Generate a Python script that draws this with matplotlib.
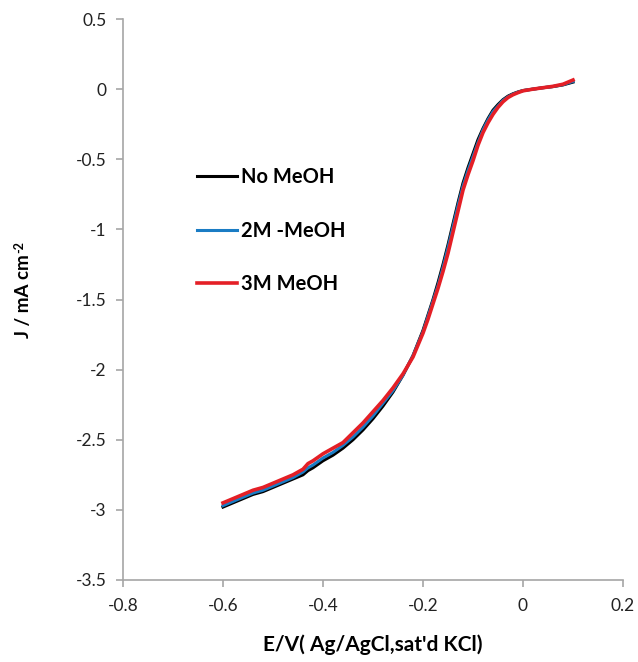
import matplotlib
matplotlib.use("Agg")
import matplotlib.pyplot as plt

plt.rcParams["font.family"] = ["Lato", "DejaVu Sans"]

# potential (V vs Ag/AgCl)
E = [-0.60, -0.58, -0.56, -0.54, -0.52, -0.50, -0.48, -0.46, -0.44, -0.43,
     -0.42, -0.40, -0.38, -0.36, -0.34, -0.32, -0.30, -0.28, -0.26, -0.24,
     -0.22, -0.20, -0.19, -0.18, -0.17, -0.16, -0.15, -0.14, -0.13, -0.12,
     -0.11, -0.10, -0.09, -0.08, -0.07, -0.06, -0.05, -0.04, -0.03, -0.02,
     -0.01, 0.00, 0.02, 0.04, 0.06, 0.08, 0.10]

# current density (mA cm-2)
j_no_meoh = [-2.98, -2.95, -2.92, -2.89, -2.87, -2.84, -2.81, -2.78, -2.75, -2.72,
             -2.70, -2.65, -2.61, -2.56, -2.50, -2.43, -2.35, -2.26, -2.16, -2.04,
             -1.90, -1.72, -1.61, -1.50, -1.38, -1.25, -1.11, -0.96, -0.81, -0.67,
             -0.56, -0.46, -0.36, -0.28, -0.21, -0.15, -0.11, -0.075, -0.05, -0.033,
             -0.02, -0.01, 0.0, 0.01, 0.018, 0.03, 0.05]
j_2m = [-2.97, -2.94, -2.91, -2.88, -2.86, -2.83, -2.80, -2.77, -2.73, -2.70,
        -2.68, -2.63, -2.59, -2.54, -2.48, -2.41, -2.33, -2.24, -2.15, -2.04,
        -1.90, -1.73, -1.62, -1.51, -1.40, -1.27, -1.13, -0.98, -0.83, -0.69,
        -0.58, -0.48, -0.38, -0.29, -0.22, -0.16, -0.12, -0.08, -0.055, -0.036,
        -0.022, -0.011, 0.0, 0.01, 0.019, 0.032, 0.055]
j_3m = [-2.95, -2.92, -2.89, -2.86, -2.84, -2.81, -2.78, -2.75, -2.71, -2.67,
        -2.65, -2.60, -2.56, -2.52, -2.45, -2.38, -2.30, -2.22, -2.13, -2.03,
        -1.91, -1.74, -1.64, -1.53, -1.42, -1.30, -1.17, -1.02, -0.87, -0.72,
        -0.61, -0.51, -0.40, -0.31, -0.24, -0.18, -0.13, -0.09, -0.06, -0.04,
        -0.025, -0.012, 0.0, 0.01, 0.02, 0.035, 0.065]

x_ticks = [-0.8, -0.6, -0.4, -0.2, 0, 0.2]
y_ticks = [0.5, 0, -0.5, -1, -1.5, -2, -2.5, -3, -3.5]

fig = plt.figure(figsize=(6.38, 6.62), dpi=100)
ax = fig.add_axes([123 / 638, 1 - 580 / 662, 500 / 638, 561 / 662])

ax.plot(E, j_no_meoh, color="#000000", lw=2.2, label="No MeOH")
ax.plot(E, j_2m, color="#1a7cc4", lw=2.2, label="2M -MeOH")
ax.plot(E, j_3m, color="#e41f26", lw=2.6, label="3M MeOH")

ax.set_xlim(-0.8, 0.2)
ax.set_ylim(-3.5, 0.5)
ax.set_xticks(x_ticks)
ax.set_xticklabels(["-0.8", "-0.6", "-0.4", "-0.2", "0", "0.2"])
ax.set_yticks(y_ticks)
ax.set_yticklabels(["0.5", "0", "-0.5", "-1", "-1.5", "-2", "-2.5", "-3", "-3.5"])

for s in ["top", "right"]:
    ax.spines[s].set_visible(False)
for s in ["left", "bottom"]:
    ax.spines[s].set_color("#a6a6a6")
    ax.spines[s].set_linewidth(1.2)
ax.tick_params(axis="both", direction="out", length=5, width=1.2,
               color="#a6a6a6", labelsize=12.5, labelcolor="#222222")
ax.tick_params(axis="x", pad=8)
ax.tick_params(axis="y", pad=7)

# axis titles (superscript added by hand so it keeps a plain hyphen)
fig.text(373 / 638, 1 - 645 / 662, "E/V( Ag/AgCl,sat'd KCl)", fontsize=15,
         fontweight="bold", ha="center", va="center")
ylab = fig.text(23 / 638, 1 - 296 / 662, "J / mA cm", fontsize=13.5,
                fontweight="bold", rotation=90, ha="center", va="center")
fig.canvas.draw()
bb = ylab.get_window_extent()
fig.text(bb.x0 - 1, bb.y1 + 1, "-2", fontsize=9, fontweight="bold",
         rotation=90, ha="left", va="bottom", transform=None)

fig.legend(loc="upper left", bbox_to_anchor=(197 / 638, 1 - 167 / 662),
           frameon=False, borderpad=0, borderaxespad=0, handlelength=2.0,
           handletextpad=0.2, labelspacing=1.67,
           prop={"family": "Lato", "weight": "bold", "size": 14.5})

fig.savefig("out.png", dpi=100)
